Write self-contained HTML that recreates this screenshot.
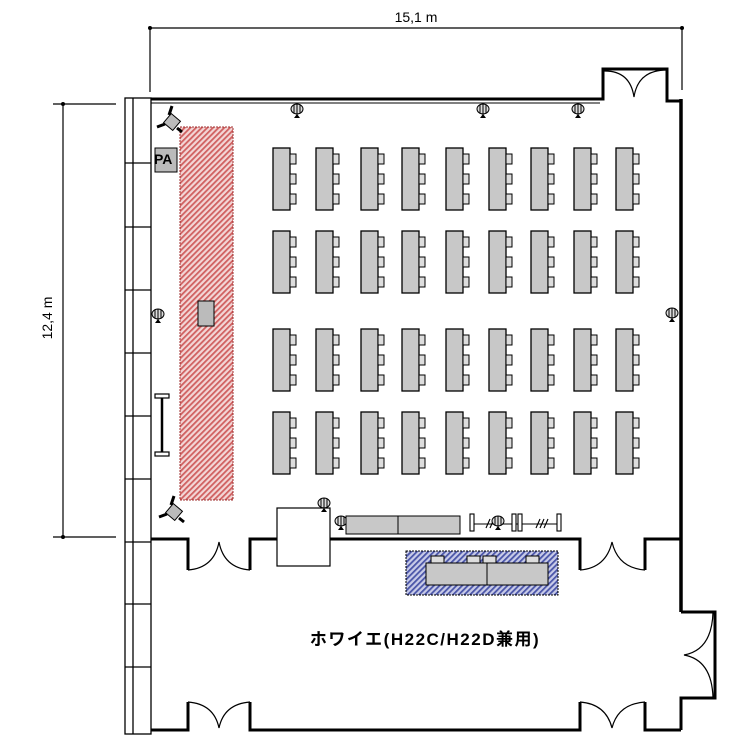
<!DOCTYPE html>
<html><head><meta charset="utf-8"><style>body{margin:0;background:#fff}svg{display:block}</style></head><body>
<svg width="750" height="750" viewBox="0 0 750 750" xmlns="http://www.w3.org/2000/svg" font-family="Liberation Sans, sans-serif">
<defs>
<pattern id="red" width="4" height="4" patternUnits="userSpaceOnUse" patternTransform="rotate(45)"><rect width="4" height="4" fill="#f3d6d6"/><rect width="1.8" height="4" fill="#d06060"/></pattern>
<pattern id="blue" width="4" height="4" patternUnits="userSpaceOnUse" patternTransform="rotate(45)"><rect width="4" height="4" fill="#c8cbe8"/><rect width="1.8" height="4" fill="#4a55a8"/></pattern>
<g id="tbl"><rect x="0" y="0" width="17" height="62" fill="#c8c8c8" stroke="#000" stroke-width="1.3"/>
<rect x="17" y="6" width="6" height="10" fill="#ddd" stroke="#000"/><rect x="17" y="26" width="6" height="10" fill="#ddd" stroke="#000"/><rect x="17" y="46" width="6" height="10" fill="#ddd" stroke="#000"/></g>
<g id="mic"><ellipse cx="0" cy="0" rx="6" ry="5" fill="#ddd" stroke="#000"/><line x1="0" y1="-5" x2="0" y2="6" stroke="#000"/><line x1="-3" y1="-4" x2="-3" y2="4" stroke="#000"/><line x1="3" y1="-4" x2="3" y2="4" stroke="#000"/><path d="M-3 9 L3 9 L0 5Z" fill="#000"/></g>
<g id="spk"><rect x="-6" y="-6" width="12" height="12" fill="#bbb" stroke="#000" transform="rotate(40)"/><path d="M-3 -7 L0 -16 M-7 2 L-15 5 M5 6 L10 10" stroke="#000" stroke-width="3"/></g>
</defs>
<g stroke="#000" stroke-width="1.2" fill="none">
<line x1="150" y1="28" x2="682" y2="28"/><line x1="150" y1="28" x2="150" y2="92"/><line x1="682" y1="28" x2="682" y2="90"/>
<line x1="53" y1="104" x2="116" y2="104"/><line x1="63" y1="104" x2="63" y2="537"/><line x1="53" y1="537" x2="116" y2="537"/>
</g>
<circle cx="150" cy="28" r="2"/><circle cx="682" cy="28" r="2"/><circle cx="63" cy="104" r="2"/><circle cx="63" cy="537" r="2"/>
<text x="416" y="22" font-size="14" text-anchor="middle">15,1 m</text>
<text x="0" y="0" font-size="14" text-anchor="middle" transform="translate(52,318) rotate(-90)">12,4 m</text>
<g stroke="#000" stroke-width="1.3" fill="none">
<rect x="125" y="98" width="26" height="636"/><line x1="133" y1="98" x2="133" y2="734"/>
<path d="M125 163H151M125 227H151M125 290H151M125 353H151M125 416H151M125 479H151M125 542H151M125 604H151M125 667H151"/>
</g>
<g stroke="#000" fill="none">
<path d="M151 99H603V69H667V101H681" stroke-width="3"/><line x1="151" y1="103" x2="600" y2="103" stroke-width="1"/>
<line x1="681" y1="99" x2="681" y2="612" stroke-width="3.5"/>
<path d="M151 539H188V570M250 570V539H580V570M645 570V539H681" stroke-width="3"/>
<path d="M681 612H715V698H681V730" stroke-width="3"/>
<path d="M151 730H188V702M250 702V730H580V702M645 702V730H681" stroke-width="3"/>
<g stroke-width="1.2">
<path d="M603 71 Q630 70 634 97 Q638 70 667 70"/>
<path d="M188 570 Q214 568 219 542 Q224 568 250 570"/>
<path d="M580 570 Q606 568 612 542 Q618 568 645 570"/>
<path d="M188 702 Q214 704 219 728 Q224 704 250 702"/>
<path d="M580 702 Q606 704 612 728 Q618 704 645 702"/>
<path d="M713 612 Q712 650 684 655 Q712 660 713 698"/>
</g></g>
<rect x="180" y="127" width="53" height="373" fill="url(#red)" stroke="#a03030" stroke-dasharray="2,1"/>
<rect x="198" y="301" width="16" height="25" fill="#bbb" stroke="#000"/>
<rect x="155" y="148" width="22" height="24" fill="#bbb" stroke="#000"/>
<text x="154" y="164" font-size="14" font-weight="bold">PA</text>
<use href="#spk" x="172" y="122"/><use href="#spk" x="174" y="512"/>
<g stroke="#000" stroke-width="1.2" fill="#fff"><rect x="155" y="394" width="14" height="4"/><rect x="155" y="452" width="14" height="4"/></g>
<line x1="162" y1="398" x2="162" y2="452" stroke="#000" stroke-width="2.5"/>
<use href="#mic" x="158" y="314"/><use href="#mic" x="297" y="109"/><use href="#mic" x="483" y="109"/><use href="#mic" x="578" y="109"/><use href="#mic" x="672" y="313"/>
<g>
<use href="#tbl" x="273" y="148"/><use href="#tbl" x="316" y="148"/><use href="#tbl" x="361" y="148"/><use href="#tbl" x="402" y="148"/><use href="#tbl" x="446" y="148"/><use href="#tbl" x="489" y="148"/><use href="#tbl" x="531" y="148"/><use href="#tbl" x="574" y="148"/><use href="#tbl" x="616" y="148"/>
<use href="#tbl" x="273" y="231"/><use href="#tbl" x="316" y="231"/><use href="#tbl" x="361" y="231"/><use href="#tbl" x="402" y="231"/><use href="#tbl" x="446" y="231"/><use href="#tbl" x="489" y="231"/><use href="#tbl" x="531" y="231"/><use href="#tbl" x="574" y="231"/><use href="#tbl" x="616" y="231"/>
<use href="#tbl" x="273" y="329"/><use href="#tbl" x="316" y="329"/><use href="#tbl" x="361" y="329"/><use href="#tbl" x="402" y="329"/><use href="#tbl" x="446" y="329"/><use href="#tbl" x="489" y="329"/><use href="#tbl" x="531" y="329"/><use href="#tbl" x="574" y="329"/><use href="#tbl" x="616" y="329"/>
<use href="#tbl" x="273" y="412"/><use href="#tbl" x="316" y="412"/><use href="#tbl" x="361" y="412"/><use href="#tbl" x="402" y="412"/><use href="#tbl" x="446" y="412"/><use href="#tbl" x="489" y="412"/><use href="#tbl" x="531" y="412"/><use href="#tbl" x="574" y="412"/><use href="#tbl" x="616" y="412"/>
</g>
<rect x="277" y="508" width="53" height="58" fill="#fff" stroke="#000" stroke-width="1.2"/>
<use href="#mic" x="324" y="503"/><use href="#mic" x="341" y="521"/>
<rect x="346" y="516" width="114" height="18" fill="#c8c8c8" stroke="#000"/><line x1="398" y1="516" x2="398" y2="534" stroke="#000"/>
<g stroke="#000" fill="#fff" stroke-width="1.1">
<line x1="472" y1="524" x2="560" y2="524"/>
<rect x="470" y="514" width="4" height="17"/><rect x="512" y="514" width="4" height="17"/><rect x="518" y="514" width="4" height="17"/><rect x="557" y="514" width="4" height="17"/>
<path d="M486 528 L490 519 M490 528 L494 519 M536 528 L540 519 M540 528 L544 519 M544 528 L548 519"/>
</g>
<use href="#mic" x="498" y="521"/>
<rect x="406" y="551" width="152" height="44" fill="url(#blue)" stroke="#000" stroke-dasharray="2,1"/>
<g stroke="#000" fill="#ddd">
<rect x="426" y="563" width="122" height="22" fill="#c8c8c8"/><line x1="487" y1="563" x2="487" y2="585"/>
<rect x="431" y="556" width="13" height="7"/><rect x="467" y="556" width="13" height="7"/><rect x="483" y="556" width="13" height="7"/><rect x="526" y="556" width="13" height="7"/>
</g>
<text x="425" y="645" font-size="17" font-weight="bold" letter-spacing="1.5" text-anchor="middle" font-family="Liberation Sans, Noto Sans CJK JP, sans-serif">ホワイエ(H22C/H22D兼用)</text>
</svg>
</body></html>
